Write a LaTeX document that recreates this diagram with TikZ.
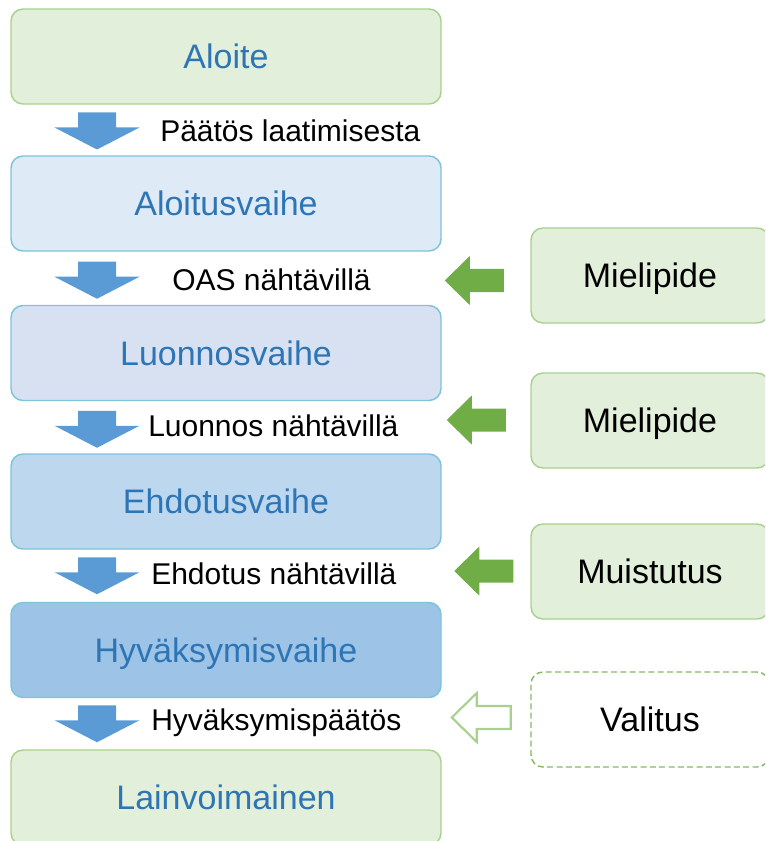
\documentclass[tikz,border=0pt]{standalone}
\usepackage{fontspec}
\setmainfont{Liberation Sans}
\usetikzlibrary{calc,positioning}
\definecolor{phaseT}{RGB}{46,117,182}
\definecolor{greenF}{RGB}{226,239,218}
\definecolor{greenE}{RGB}{169,209,142}
\definecolor{greenA}{RGB}{112,173,71}
\definecolor{blueA}{RGB}{91,155,213}
\definecolor{tealE}{RGB}{125,195,218}
\definecolor{phB}{RGB}{222,235,247}
\definecolor{phC}{RGB}{215,225,241}
\definecolor{phD}{RGB}{189,215,238}
\definecolor{phE}{RGB}{157,195,230}
\tikzset{
  pics/downblock/.style={code={
    \fill[blueA] (-19,-18.5) -- (19,-18.5) -- (19,-3.5) -- (42.5,-3.5) -- (0,18.5) -- (-42.5,-3.5) -- (-19,-3.5) -- cycle;}},
  pics/leftblock/.style={code={
    \path[pic actions] (-29.5,0) -- (-4.5,-24.5) -- (-4.5,-11.5) -- (29.5,-11.5) -- (29.5,11.5) -- (-4.5,11.5) -- (-4.5,24.5) -- cycle;}}
}

\begin{document}
\begin{tikzpicture}[x=0.75pt,y=-0.75pt,
  phase/.style={draw=tealE,line width=1.1pt,rounded corners=9pt,minimum width=322.5pt,minimum height=71.25pt,
    text=phaseT,font=\fontsize{25.5}{30}\selectfont,text height=18.4pt,text depth=0pt},
  endbox/.style={phase,draw=greenE,fill=greenF},
  side/.style={draw=greenE,line width=1.1pt,fill=greenF,rounded corners=9pt,minimum width=178.5pt,minimum height=71.25pt,
    font=\fontsize{25.5}{30}\selectfont,text height=18.4pt,text depth=0pt},
  steplabel/.style={anchor=base west,inner sep=0pt,font=\fontsize{22.5}{27}\selectfont}]
\path[use as bounding box,clip] (0,0) rectangle (765,841);
% phases
\node[endbox] (aloite) at (226,56.5) {Aloite};
\node[phase,fill=phB] (aloitus) at (226,203.5) {Aloitusvaihe};
\node[phase,fill=phC] (luonnos) at (226,353) {Luonnosvaihe};
\node[phase,fill=phD] (ehdotus) at (226,501.5) {Ehdotusvaihe};
\node[phase,fill=phE] (hyvaks) at (226,650) {Hyväksymisvaihe};
\node[endbox] (lainv) at (226,797.5) {Lainvoimainen};
% steps between phases
\pic at ($(aloite.south)!0.5!(aloitus.north)+(-129,1)$) {downblock};
\pic at ($(aloitus.south)!0.5!(luonnos.north)+(-129,2)$) {downblock};
\pic at ($(luonnos.south)!0.5!(ehdotus.north)+(-129,2)$) {downblock};
\pic at ($(ehdotus.south)!0.5!(hyvaks.north)+(-129,0)$) {downblock};
\pic at ($(hyvaks.south)!0.5!(lainv.north)+(-129,0)$) {downblock};
\node[steplabel] (paatos) at (160,142) {Päätös laatimisesta};
\node[steplabel] (oas) at (172,291) {OAS nähtävillä};
\node[steplabel] (lnahta) at (148,436) {Luonnos nähtävillä};
\node[steplabel] (enahta) at (151,584) {Ehdotus nähtävillä};
\node[steplabel] (hpaatos) at (151,730) {Hyväksymispäätös};
% feedback
\node[side] (miel1) at (650,275.5) {Mielipide};
\node[side] (miel2) at (650,420.5) {Mielipide};
\node[side] (muist) at (650,571.5) {Muistutus};
\node[side,fill=none,draw=greenA!85,dashed,dash pattern=on 4.5pt off 2.5pt] (valit) at (650,719.5) {Valitus};
\pic[fill=greenA] at ($(miel1.west)+(-56,5)$) {leftblock};
\pic[fill=greenA] at ($(miel2.west)+(-54,-0.5)$) {leftblock};
\pic[fill=greenA] at ($(muist.west)+(-46.5,-0.5)$) {leftblock};
\pic[draw=greenE,line width=1.6pt,fill=white] at ($(valit.west)+(-49,-2)$) {leftblock};
\end{tikzpicture}
\end{document}
